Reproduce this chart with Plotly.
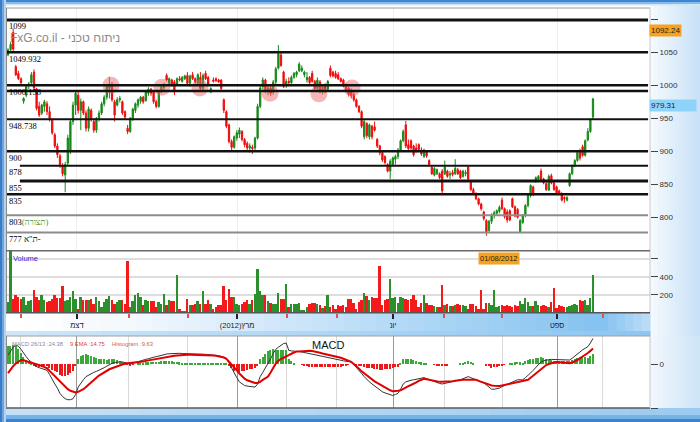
import plotly.graph_objects as go

# ---------------- data ----------------
opens = [1046, 1054, 1080, 1028, 1018, 1010, 976, 985, 1000, 1004,
         1020, 994, 968, 958, 968, 972, 960, 948, 925, 908,
         893, 878, 864, 882, 900, 945, 970, 985, 962, 975,
         958, 935, 962, 945, 932, 950, 958, 972, 982, 995,
         1000, 975, 970, 978, 975, 960, 935, 930, 950, 962,
         970, 976, 982, 977, 988, 994, 990, 975, 968, 990,
         996, 1015, 1002, 1008, 1005, 1002, 1010, 1006, 1010, 1015,
         1003, 1016, 1010, 1003, 1012, 995, 1018, 1012, 990, 1008,
         1010, 1008, 1008, 978, 960, 940, 915, 906, 920, 926,
         930, 918, 912, 905, 906, 905, 920, 968, 998, 1008,
         992, 996, 990, 1005, 1026, 1046, 1020, 1000, 1006, 1004,
         1012, 1016, 1022, 1022, 1016, 1008, 1012, 1018, 1006, 995,
         1005, 990, 998, 994, 1026, 1020, 1018, 1016, 1010, 1008,
         1000, 996, 990, 986, 978, 968, 960, 922, 942, 922,
         938, 937, 918, 908, 898, 892, 880, 870, 880, 888,
         892, 902, 916, 940, 910, 916, 908, 905, 910, 902,
         892, 900, 886, 876, 864, 866, 866, 870, 866, 870,
         864, 868, 866, 872, 870, 862, 866, 876, 853, 842,
         836, 828, 820, 808, 795, 780, 794, 803, 806, 809,
         826, 813, 808, 810, 828, 816, 812, 778, 792, 803,
         818, 833, 846, 855, 858, 870, 858, 851, 841, 863,
         852, 846, 840, 836, 830, 826, 848, 866, 879, 886,
         900, 907, 894, 917, 930, 952]
highs = [1056, 1066, 1086, 1031, 1022, 1012, 982, 1000, 1005, 1020,
         1024, 996, 975, 972, 978, 976, 968, 950, 928, 912,
         896, 882, 884, 925, 948, 975, 992, 990, 980, 977,
         962, 968, 965, 950, 952, 962, 975, 985, 1000, 1013,
         1005, 978, 982, 984, 977, 962, 940, 952, 966, 974,
         980, 984, 984, 993, 997, 996, 992, 978, 992, 1002,
         1004, 1018, 1012, 1010, 1008, 1012, 1014, 1014, 1016, 1020,
         1016, 1020, 1012, 1018, 1020, 1018, 1022, 1014, 997, 1012,
         1012, 1010, 1009, 980, 962, 942, 918, 924, 932, 936,
         932, 920, 915, 912, 910, 922, 972, 1000, 1012, 1010,
         1000, 999, 1008, 1028, 1061, 1050, 1022, 1010, 1012, 1015,
         1020, 1022, 1035, 1030, 1022, 1020, 1014, 1022, 1008, 1012,
         1008, 1000, 1003, 1008, 1030, 1022, 1022, 1020, 1012, 1010,
         1003, 998, 995, 990, 980, 970, 962, 948, 944, 942,
         940, 945, 920, 910, 900, 894, 882, 888, 892, 895,
         905, 918, 933, 946, 918, 918, 910, 912, 912, 906,
         904, 902, 888, 878, 876, 874, 868, 873, 886, 872,
         870, 872, 888, 875, 872, 872, 872, 878, 855, 845,
         838, 830, 822, 810, 797, 796, 806, 810, 812, 818,
         830, 815, 812, 812, 830, 818, 814, 797, 805, 820,
         835, 850, 848, 862, 864, 874, 860, 853, 865, 866,
         854, 848, 842, 838, 832, 832, 868, 880, 888, 900,
         904, 910, 918, 935, 950, 981]
lows = [1044, 1051, 1052, 1014, 1008, 1000, 972, 982, 994, 1000,
        994, 962, 952, 955, 960, 955, 945, 925, 905, 890,
        875, 862, 838, 879, 896, 940, 955, 957, 932, 955,
        930, 930, 945, 928, 928, 945, 955, 968, 978, 980,
        975, 945, 968, 974, 955, 948, 926, 928, 946, 958,
        966, 972, 972, 975, 984, 984, 972, 965, 966, 988,
        990, 1006, 1000, 998, 985, 1000, 1006, 1004, 1008, 1000,
        998, 1008, 1002, 1000, 990, 992, 1008, 1000, 988, 1004,
        1005, 1004, 993, 958, 935, 912, 902, 904, 916, 920,
        915, 906, 902, 898, 896, 902, 918, 965, 994, 988,
        985, 984, 986, 1002, 1024, 1028, 996, 996, 1002, 1002,
        1010, 1012, 1020, 1020, 1012, 1004, 1002, 1004, 992, 992,
        988, 986, 988, 992, 1012, 1012, 1010, 1008, 1004, 997,
        990, 983, 980, 975, 966, 958, 935, 918, 920, 918,
        918, 930, 905, 894, 884, 880, 868, 858, 878, 880,
        888, 900, 914, 905, 900, 902, 892, 898, 900, 893,
        890, 890, 878, 864, 862, 864, 858, 836, 864, 860,
        858, 862, 864, 864, 858, 860, 862, 856, 840, 834,
        826, 818, 810, 795, 772, 778, 790, 798, 802, 806,
        811, 798, 792, 794, 814, 800, 798, 776, 790, 800,
        815, 830, 832, 852, 854, 854, 850, 840, 840, 850,
        840, 835, 834, 824, 822, 824, 846, 864, 876, 884,
        886, 892, 892, 915, 928, 948]
closes = [1054, 1062, 1055, 1016, 1010, 1004, 980, 998, 1002, 1016,
          996, 965, 955, 970, 975, 960, 950, 928, 908, 895,
          880, 866, 880, 920, 945, 970, 988, 962, 975, 958,
          935, 964, 948, 932, 950, 958, 972, 982, 998, 1000,
          978, 955, 978, 980, 958, 952, 930, 950, 964, 972,
          978, 982, 975, 990, 994, 988, 975, 968, 990, 998,
          1000, 1008, 1010, 1002, 990, 1010, 1008, 1012, 1014, 1003,
          1014, 1010, 1005, 1016, 995, 1015, 1010, 1002, 995, 1006,
          1007, 1005, 995, 962, 938, 915, 906, 922, 928, 932,
          918, 910, 905, 908, 904, 920, 968, 996, 1008, 992,
          996, 988, 1005, 1025, 1048, 1030, 998, 1006, 1004, 1012,
          1018, 1020, 1032, 1026, 1020, 1012, 1004, 1006, 995, 1008,
          990, 998, 992, 1006, 1015, 1014, 1012, 1010, 1006, 999,
          993, 986, 984, 978, 968, 960, 938, 945, 924, 940,
          922, 932, 908, 898, 887, 883, 870, 885, 890, 892,
          902, 916, 930, 908, 904, 905, 895, 902, 903, 896,
          902, 893, 880, 866, 874, 872, 860, 840, 876, 862,
          866, 865, 874, 866, 860, 870, 868, 858, 842, 836,
          828, 820, 813, 798, 778, 794, 804, 807, 810, 815,
          813, 801, 796, 796, 816, 802, 800, 795, 803, 818,
          833, 848, 835, 860, 862, 856, 852, 842, 862, 852,
          842, 837, 836, 826, 828, 830, 866, 878, 886, 898,
          890, 894, 916, 930, 948, 979.31]
volumes = [123, 685, 160, 197, 178, 160, 178, 93, 130, 142,
           252, 178, 142, 197, 149, 123, 130, 160, 197, 167,
           167, 297, 130, 149, 178, 245, 160, 48, 178, 142,
           142, 142, 160, 105, 178, 130, 67, 123, 160, 186,
           142, 105, 123, 149, 142, 105, 578, 67, 130, 197,
           227, 178, 86, 149, 130, 130, 130, 67, 123, 105,
           216, 93, 142, 130, 130, 419, 49, 12, 12, 160,
           86, 86, 105, 130, 105, 250, 105, 142, 105, 49,
           67, 86, 86, 301, 142, 262, 178, 178, 105, 86,
           105, 123, 142, 105, 142, 216, 493, 250, 197, 197,
           130, 116, 105, 97, 227, 160, 160, 326, 67, 97,
           97, 97, 112, 30, 30, 67, 97, 112, 116, 97,
           86, 56, 79, 204, 67, 86, 49, 86, 79, 86,
           67, 160, 160, 116, 49, 123, 142, 227, 186, 149,
           178, 171, 167, 523, 93, 149, 160, 375, 167, 178,
           116, 178, 167, 160, 142, 160, 197, 149, 67, 116,
           197, 116, 86, 86, 75, 67, 67, 308, 86, 97,
           79, 79, 93, 97, 93, 86, 79, 42, 105, 97,
           75, 49, 260, 49, 116, 116, 86, 260, 67, 75,
           86, 75, 93, 75, 67, 86, 75, 130, 105, 167,
           123, 75, 75, 130, 93, 79, 86, 75, 67, 123,
           282, 56, 86, 75, 67, 67, 79, 93, 105, 93,
           142, 130, 142, 86, 167, 419]
macd_line = [8.6, 12, 16, 18, 17, 14, 10, 7, 4, 1.5, -1,
             -2.5, -3.5, -4.5, -5, -6, -10, -15, -19, -23, -28,
             -31, -33, -34, -34, -33, -29, -22, -18, -15, -12,
             -10.5, -9, -8, -7, -6, -5, -3.5, -2, -0.5, 0.6,
             1.5, 2, 2, 2, 1.5, 0.5, 0, 0.6, 1.5, 2.5,
             3.2, 3.8, 4.5, 5, 6, 6.5, 7, 7.8, 8.5, 9,
             9.5, 9.8, 10, 10, 10.2, 10.2, 10, 10, 10, 9.8,
             9.8, 9.7, 9.6, 9.5, 9.4, 9.2, 9, 8.9, 8.8, 8.6,
             8, 7.2, 6.4, 5.4, 1, -4, -9, -13, -17, -19,
             -20.5, -21, -21.5, -22, -22, -19, -12, -8, -4, 0.6,
             5, 10, 14, 16, 18, 19.5, 20, 13, 12.5, 12,
             12, 12, 11.5, 11, 10.5, 10, 9.5, 9, 8.6, 8.2,
             7.6, 7, 6.5, 6, 5.4, 4.8, 4.2, 3.6, 3, 2.6,
             2.2, 2, -0.5, -3, -6, -9, -12, -15, -17, -19,
             -21, -23, -25, -26.5, -27.5, -28.5, -29.5, -30, -29, -28,
             -24, -19, -17, -16, -15.5, -15, -14.5, -14, -13.5, -13,
             -14, -15, -16, -17, -18, -18.5, -19, -18.5, -18, -17,
             -16.5, -16, -15.5, -15, -14, -13, -12, -13, -14, -15,
             -16, -17, -18, -20, -22, -24, -24, -23.5, -23, -21.5,
             -20.5, -19.5, -18, -17, -16, -15, -15, -15, -13, -11,
             -8.5, -6, -3.5, -1, 2, 3, 3.8, 4.2, 4.4, 4.4,
             4.4, 4.4, 4.2, 4, 3.9, 3.8, 5.5, 7.5, 9.5, 12,
             13.5, 15, 16.5, 20, 24.38]
signal_line = [-8.6, -5, -2, 0.5, 2.5, 3.8, 3.5, 3, 2, 1.2, 0.6,
               0, -0.8, -1.8, -3, -4, -6.5, -9, -12, -15, -17.5,
               -20, -22, -24, -25.5, -26.5, -27, -26.5, -25.5, -24, -22,
               -19.5, -17, -15, -13, -11, -9.5, -8, -6, -5, -4,
               -3, -2, -1.2, 0, 0.5, 0.8, 1, 1.3, 1.5, 1.8,
               2, 2.5, 3, 3.5, 4, 4.5, 5, 5.4, 5.8, 6.2,
               6.6, 7, 7.4, 7.8, 8.1, 8.4, 8.6, 8.7, 8.8, 8.8,
               8.8, 8.8, 8.8, 8.7, 8.7, 8.6, 8.6, 8.4, 8.1, 7.8,
               7.4, 7, 6.3, 5, 2.5, 0, -2.5, -6, -9, -12,
               -14, -15.5, -16.5, -17.5, -18, -18, -17, -15, -13.5, -12,
               -8, -4, 0.6, 3, 5, 6, 7, 8.5, 9.8, 11,
               12, 12, 12.3, 12.5, 12.7, 12.7, 12.4, 12, 11.5, 10.8,
               10, 9.5, 9, 8.4, 7.8, 7.4, 7, 6, 5, 4,
               3, 2, 0, -2, -4.5, -7, -9, -11, -13, -15,
               -16.5, -18, -19.5, -21, -22.5, -24, -25, -26, -26, -25.5,
               -25, -23.5, -22, -21, -20, -19, -17.5, -16, -15, -14,
               -14.5, -15, -16, -16.5, -17, -17, -17, -17, -17, -17,
               -16.5, -16, -15.5, -15.2, -15, -15, -15, -15, -15, -15,
               -16, -17, -18, -19, -20, -20.5, -20.8, -21, -21, -20.5,
               -20, -19.5, -19, -18, -17.5, -17, -16.5, -16, -15.5, -15,
               -13, -11, -9, -7, -5, -3, -1, 0, 1, 1.5,
               2, 1.8, 1.5, 1, 0.6, 0.8, 1.5, 2.5, 3.8, 5.5,
               7, 8.5, 10.5, 12.5, 14.75]

# month starts expressed as trading-day index
month_pos = [4.9, 26.5, 46.5, 69.2, 88.1, 107.3, 126.5, 148.1, 167.7, 190.0, 211.2, 228.8]
quarter_pos = [26.5, 88.1, 148.1, 211.2]
quarter_labels = ["דצמ", "(2012)מרץ", "יונ", "ספט"]
other_months = [m for m in month_pos if m not in quarter_pos]

levels = [1099, 1049.932, 1000.158, 991.4, 948.738, 900, 878, 855, 835, 803, 777]
level_labels = ["1099", "1049.932", "1000.158", "", "948.738", "900", "878", "855", "835",
                "803<span style='color:#3f9a3f'>(תצורה)</span>", "777 ת\"א-"]
level_width = [3, 2.5, 2.5, 2.5, 2, 2.6, 2, 3, 2.6, 2, 1.8]
level_color = ["#111"] * 9 + ["#8c8c8c", "#8c8c8c"]
level_start = [0, 0, 0, 0, 0, 0, 0.02, 0.02, 0, 0, 0]

circle_idx = [39.6, 59.2, 73.8, 100.8, 119.6, 132.3]
circle_val = [1000, 997, 996, 988, 987, 996]

price_ticks = [800, 850, 900, 950, 1000, 1050, 1100]
last_high_tag = 1092.24
last_close_tag = 979.31
macd_txt = "MACD 26/13 :24.38"
ema_txt = "9 EMA :14.75"
hist_txt = "Histogram :9.63"

# ---------------- geometry helpers ----------------
W, H = 700, 422
def px(x):
    return x / W
def py(y):
    return 1 - y / H

NARROW = "Liberation Sans Narrow, Liberation Sans, sans-serif"
SERIF = "Liberation Serif, DejaVu Serif, serif"
GREEN = "#17891a"
RED = "#f00c0c"
VGREEN = "#2b8f2b"
VRED = "#f21a1a"

X0, X1 = 7, 650
xdom = [px(X0), px(X1)]
x_range = [(X0 - 8) / 2.6, (X1 - 8) / 2.6]
n = len(closes)
idx = list(range(n))

vol_colors = [VGREEN if c >= o else VRED for o, c in zip(opens, closes)]
hist = [m - s for m, s in zip(macd_line, signal_line)]
hist_colors = ["#3aa83a" if h >= 0 else "#ee1a1a" for h in hist]

fig = go.Figure()
fig.add_trace(go.Candlestick(
    x=idx, open=opens, high=highs, low=lows, close=closes,
    increasing=dict(line=dict(color=GREEN, width=1), fillcolor=GREEN),
    decreasing=dict(line=dict(color=RED, width=1), fillcolor=RED),
    whiskerwidth=0, xaxis="x", yaxis="y", showlegend=False, hoverinfo="skip"))
fig.add_trace(go.Scatter(
    x=circle_idx, y=circle_val, mode="markers", xaxis="x", yaxis="y",
    marker=dict(size=17, color="rgba(240,110,110,0.5)", line=dict(width=0)),
    showlegend=False, hoverinfo="skip"))
fig.add_trace(go.Bar(x=idx, y=volumes, marker=dict(color=vol_colors, line=dict(width=0)),
                     width=0.72, xaxis="x2", yaxis="y2", showlegend=False, hoverinfo="skip"))
fig.add_trace(go.Bar(x=idx, y=hist, marker=dict(color=hist_colors, line=dict(width=0)),
                     width=0.6, xaxis="x3", yaxis="y3", showlegend=False, hoverinfo="skip"))
fig.add_trace(go.Scatter(x=idx, y=macd_line, mode="lines", line=dict(color="#333", width=1),
                         xaxis="x3", yaxis="y3", showlegend=False, hoverinfo="skip"))
fig.add_trace(go.Scatter(x=idx, y=signal_line, mode="lines", line=dict(color="#e00000", width=2),
                         xaxis="x3", yaxis="y3", showlegend=False, hoverinfo="skip"))

tickfont = dict(family=NARROW, size=8, color="#333")

# ---------------- background frame (styling) ----------------
shapes = []
def rect(x0, y0, x1, y1, color):
    shapes.append(dict(type="rect", xref="paper", yref="paper", layer="below",
                       x0=px(x0), x1=px(x1), y0=py(y1), y1=py(y0),
                       fillcolor=color, line=dict(width=0)))

def mix(c1, c2, t):
    a = [int(c1[i:i + 2], 16) for i in (1, 3, 5)]
    b = [int(c2[i:i + 2], 16) for i in (1, 3, 5)]
    return "#%02x%02x%02x" % tuple(round(a[k] + (b[k] - a[k]) * t) for k in range(3))

def hgrad(x0, x1, y0, y1, c1, c2, steps=24):
    w = (x1 - x0) / steps
    for k in range(steps):
        rect(x0 + k * w, y0, x0 + (k + 1) * w + 0.6, y1, mix(c1, c2, k / (steps - 1)))

# right margin
hgrad(650, 700, 0, 336, "#f4f9fe", "#c9e2f7", 12)
hgrad(650, 700, 336, 408, "#f1f7fd", "#cfe5f8", 12)
# x label band
hgrad(6, 120, 313, 331, "#ffffff", "#f4f9fe", 6)
hgrad(120, 600, 313, 331, "#f4f9fe", "#86c3f0", 30)
hgrad(600, 650, 313, 331, "#86c3f0", "#b9dbf6", 6)
hgrad(6, 650, 331, 336, "#cfe5f8", "#8cc6f1", 20)
# white panels
rect(6, 5, 650, 313, "#ffffff")
rect(6, 336, 650, 408, "#ffffff")
# top band
rect(0, 0, 700, 2, "#3f86d2")
rect(0, 2, 700, 4, "#86bbea")
rect(0, 4, 700, 5.5, "#cfe5f8")
# bottom band
hgrad(0, 700, 408, 415, "#c4e0f7", "#9ccbf1", 20)
rect(0, 415, 700, 419, "#78b3e8")
rect(0, 419, 700, 422, "#3b82cf")
# left band
rect(0, 0, 2, 422, "#3a7cc8")
rect(2, 0, 4, 422, "#6da5de")
rect(4, 0, 6, 422, "#b3d3f1")

# panel borders
def pline(x0, y0, x1, y1, color, width):
    shapes.append(dict(type="line", xref="paper", yref="paper", layer="above",
                       x0=px(x0), x1=px(x1), y0=py(y0), y1=py(y1),
                       line=dict(color=color, width=width)))
pline(6, 8, 650, 8, "#9a9a9a", 1)
pline(6.5, 8, 6.5, 313, "#8a8a8a", 1)
pline(650, 8, 650, 313, "#c8c8c8", 1)
pline(6, 250.7, 650, 250.7, "#6a6a6a", 1.6)
pline(6, 312.7, 650, 312.7, "#555555", 1.6)
pline(6, 336, 650, 336, "#a0a0a0", 1)
pline(6, 408, 650, 408, "#5a5a5a", 1.5)
pline(6.5, 336, 6.5, 408, "#8a8a8a", 1)
pline(650, 336, 650, 408, "#c8c8c8", 1)

# support / resistance levels
for lv, w, c, s in zip(levels, level_width, level_color, level_start):
    shapes.append(dict(type="line", xref="x domain", yref="y", x0=s, x1=0.997, y0=lv, y1=lv,
                       line=dict(color=c, width=w), layer="above"))

annotations = []
for lv, lab in zip(levels, level_labels):
    if lab:
        annotations.append(dict(xref="x domain", yref="y", x=0.0015, y=lv, xanchor="left",
                                yanchor="top", yshift=-0.5, text=lab, showarrow=False,
                                font=dict(family=SERIF, size=8.5, color="#000"), borderpad=0))

annotations += [
    dict(xref="paper", yref="paper", x=px(7.5), y=py(38), xanchor="left", yanchor="middle",
         text="FxG.co.il - ניתוח טכני", showarrow=False,
         font=dict(family=NARROW, size=12, color="#8a8a8a")),
    dict(xref="paper", yref="y", x=px(649), y=last_high_tag, xanchor="left", yanchor="top",
         text="%.2f" % last_high_tag, showarrow=False, bgcolor="#f6a21e", borderpad=1,
         font=dict(family=NARROW, size=8, color="#222")),
    dict(xref="paper", yref="y", x=px(649), y=last_close_tag, xanchor="left", yanchor="top",
         text="%.2f" % last_close_tag, showarrow=False, bgcolor="#8fd3fb", borderpad=1,
         width=44, align="left", font=dict(family=NARROW, size=8, color="#222")),
    dict(xref="x2", yref="paper", x=month_pos[9], y=py(251.5), xanchor="center", yanchor="top",
         xshift=-3.5, text="01/08/2012", showarrow=False, bgcolor="#f6a21e", borderpad=1,
         font=dict(family=NARROW, size=7.5, color="#222")),
    dict(xref="paper", yref="paper", x=px(11), y=py(258.5), xanchor="left", yanchor="middle",
         text="Volume", showarrow=False, font=dict(family=NARROW, size=7.5, color="#2a2ad0")),
    dict(xref="paper", yref="paper", x=px(9.5), y=py(344), xanchor="left", yanchor="middle",
         text=macd_txt, showarrow=False, font=dict(family=NARROW, size=5.8, color="#8c8c8c")),
    dict(xref="paper", yref="paper", x=px(68), y=py(344), xanchor="left", yanchor="middle",
         text=ema_txt, showarrow=False, font=dict(family=NARROW, size=5.8, color="#d84040")),
    dict(xref="paper", yref="paper", x=px(110), y=py(344), xanchor="left", yanchor="middle",
         text=hist_txt, showarrow=False, font=dict(family=NARROW, size=5.8, color="#d06060")),
    dict(xref="paper", yref="paper", x=px(328), y=py(345), xanchor="center", yanchor="middle",
         text="MACD", showarrow=False, font=dict(family=NARROW, size=11, color="#111")),
]

fig.update_layout(
    width=W, height=H, margin=dict(l=0, r=0, t=0, b=0),
    paper_bgcolor="#d8eaf9", plot_bgcolor="rgba(0,0,0,0)",
    showlegend=False, bargap=0, barmode="overlay",
    shapes=shapes, annotations=annotations,
    xaxis=dict(domain=xdom, range=x_range, anchor="y", rangeslider=dict(visible=False),
               tickvals=quarter_pos, showticklabels=False, ticks="", showgrid=True,
               gridcolor="#efefef", gridwidth=1, zeroline=False, showline=False, fixedrange=True),
    yaxis=dict(domain=[py(250.7), py(8)], range=[749.4, 1117.1], side="right", anchor="x",
               tickvals=price_ticks, ticktext=[str(t) if t < 1100 else "" for t in price_ticks],
               ticks="outside", ticklen=7, tickcolor="#444", tickfont=tickfont,
               showgrid=False, zeroline=False, showline=False),
    xaxis2=dict(domain=xdom, range=x_range, anchor="y2", tickvals=quarter_pos,
                ticktext=quarter_labels, ticks="outside", ticklen=5, tickwidth=1.5,
                tickcolor="#222", tickfont=dict(family=NARROW, size=7.5, color="#222"),
                showgrid=False, zeroline=False, showline=False,
                minor=dict(tickvals=other_months, ticks="outside", ticklen=4,
                           tickcolor="#e05050", showgrid=False)),
    yaxis2=dict(domain=[py(312.7), py(250.7)], range=[0, 689], side="right", anchor="x2",
                tickvals=[200, 400, 600], ticktext=["200", "400", ""], ticks="outside",
                ticklen=7, tickcolor="#444", tickfont=tickfont, showgrid=True,
                gridcolor="#dedede", gridwidth=1.5, zeroline=False, showline=False),
    xaxis3=dict(domain=xdom, range=x_range, anchor="y3", tickvals=quarter_pos,
                showticklabels=False, ticks="", showgrid=True, gridcolor="#9a9a9a",
                gridwidth=1.4, zeroline=False, showline=False,
                minor=dict(tickvals=other_months, showgrid=True, gridcolor="#dadada",
                           gridwidth=1)),
    yaxis3=dict(domain=[py(408), py(336)], range=[-41.9, 26.7], side="right", anchor="x3",
                tickvals=[-41.9, 0], ticktext=["", "0"], ticks="outside", ticklen=7,
                tickcolor="#444", tickfont=tickfont, showgrid=False, zeroline=False,
                showline=False),
)

fig.write_html("out.html", config={"displayModeBar": False},
               post_script="document.body.style.margin='0px';")
